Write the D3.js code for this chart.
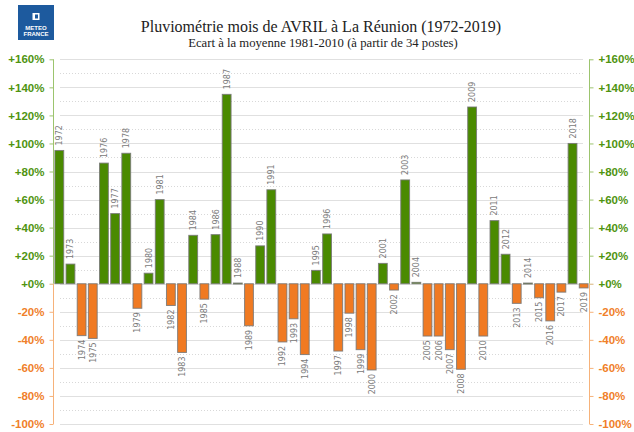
<!DOCTYPE html>
<html lang="fr">
<head>
<meta charset="UTF-8">
<title>Pluviométrie avril La Réunion</title>
<script src="https://d3js.org/d3.v7.min.js"></script>
<style>
  body { margin: 0; background: #fff; }
  svg { display: block; }
</style>
</head>
<body>
<div id="chart"></div>
<script>
// années et écart à la moyenne (%)
const years = d3.range(1972, 2020);
const ecarts = [
  95, 14, -37, -39, 86, 50, 93, -17.5, 7.5, 60,
  -15.5, -49, 34.5, -11, 35, 135, 0.5, -30, 27, 67,
  -41.5, -25, -50.5, 9.5, 35.5, -48, -21, -47, -61.5, 14.5,
  -4.5, 74, 1, -37.3, -37.3, -47, -61, 126, -37.3, 45,
  21, -14, 0.5, -10, -26.5, -6, 100, -3
];
const majorTicks = d3.range(-100, 161, 20);
const minorTicks = d3.range(-90, 160, 20);

const W = 634, H = 432;
const green = "#4a8a00", orange = "#f07a22";
const greenTxt = "#4f9410", orangeTxt = "#f07f2a";

const svg = d3.select("#chart").append("svg")
  .attr("width", W).attr("height", H);

const x = d3.scaleBand().domain(years).range([54.4, 588.6]).paddingInner(0.12);
const y = d3.scaleLinear().domain([-100, 160]).range([424, 59.3]);

const gx0 = 60, gx1 = 583;
const axL = 53.5, axR = 589.5;

// grille
svg.append("g").selectAll("line").data(minorTicks).join("line")
  .attr("x1", gx0).attr("x2", gx1)
  .attr("y1", d => Math.round(y(d)) + 0.5).attr("y2", d => Math.round(y(d)) + 0.5)
  .attr("stroke", "#d8d8d8").attr("stroke-dasharray", "1,2");
svg.append("g").selectAll("line").data(majorTicks).join("line")
  .attr("x1", gx0).attr("x2", gx1)
  .attr("y1", d => Math.round(y(d)) + 0.5).attr("y2", d => Math.round(y(d)) + 0.5)
  .attr("stroke", "#e0e0e0").attr("stroke-width", 1.2);

// axes gauche et droite
const fmt = d => (d >= 0 ? "+" : "") + d + "%";
function drawAxis(axis, xpos) {
  const g = svg.append("g").attr("transform", `translate(${xpos},0)`)
    .call(axis.tickValues(majorTicks).tickSize(4).tickPadding(5).tickFormat(fmt));
  g.select(".domain").remove();
  g.selectAll(".tick line").attr("stroke", d => d > 0 ? "#9cc46e" : (d < 0 ? "#f6b27a" : "#d8b47c"));
  g.selectAll(".tick text")
    .attr("fill", d => d >= 0 ? greenTxt : orangeTxt)
    .style("font", "bold 11.5px 'Liberation Sans', Arial, sans-serif");
  g.append("line").attr("y1", y(160)).attr("y2", y(0)).attr("stroke", "#9cc46e");
  g.append("line").attr("y1", y(0)).attr("y2", y(-100)).attr("stroke", "#f6b27a");
}
drawAxis(d3.axisLeft(y), axL);
drawAxis(d3.axisRight(y), axR);

// barres
const data = years.map((yr, i) => ({ yr, v: ecarts[i] }));
svg.append("g").selectAll("rect").data(data).join("rect")
  .attr("x", d => x(d.yr) + 0.5)
  .attr("y", d => y(Math.max(0, d.v)))
  .attr("width", x.bandwidth() - 1)
  .attr("height", d => Math.max(1, Math.abs(y(d.v) - y(0))))
  .attr("fill", d => d.v >= 0 ? green : orange)
  .attr("stroke", "#777").attr("stroke-opacity", 0.85).attr("stroke-width", 1);

// étiquettes des années
svg.append("g").selectAll("text").data(data).join("text")
  .attr("transform", d => {
    const cx = x(d.yr) + x.bandwidth() / 2 + 3;
    const cy = d.v >= 0 ? y(d.v) - 5 : y(d.v) + 4;
    return `translate(${cx},${cy}) rotate(-90)`;
  })
  .attr("text-anchor", d => d.v >= 0 ? "start" : "end")
  .attr("fill", "#7a7a7a")
  .style("font", "8px 'DejaVu Sans', Verdana, sans-serif")
  .text(d => d.yr);

// titres
svg.append("text").attr("x", 321).attr("y", 32).attr("text-anchor", "middle")
  .style("font", "16px 'Liberation Serif', 'Times New Roman', serif").attr("fill", "#222")
  .text("Pluviométrie mois de AVRIL à La Réunion (1972-2019)");
svg.append("text").attr("x", 323).attr("y", 47).attr("text-anchor", "middle")
  .style("font", "12.7px 'Liberation Serif', 'Times New Roman', serif").attr("fill", "#222")
  .text("Ecart à la moyenne 1981-2010 (à partir de 34 postes)");

// logo
const logo = svg.append("g").attr("transform", "translate(18,5)");
logo.append("rect").attr("width", 36).attr("height", 35).attr("fill", "#1d5a9e");
logo.append("rect").attr("x", 14.5).attr("y", 8).attr("width", 7).attr("height", 7).attr("fill", "#fff");
logo.append("rect").attr("x", 17).attr("y", 9.5).attr("width", 3).attr("height", 4).attr("fill", "#1d5a9e");
logo.append("text").attr("x", 18).attr("y", 24.5).attr("text-anchor", "middle")
  .style("font", "bold 6px 'Liberation Sans', Arial, sans-serif").attr("fill", "#fff").text("METEO");
logo.append("text").attr("x", 18).attr("y", 31).attr("text-anchor", "middle")
  .style("font", "bold 6px 'Liberation Sans', Arial, sans-serif").attr("fill", "#fff").text("FRANCE");
</script>
</body>
</html>
